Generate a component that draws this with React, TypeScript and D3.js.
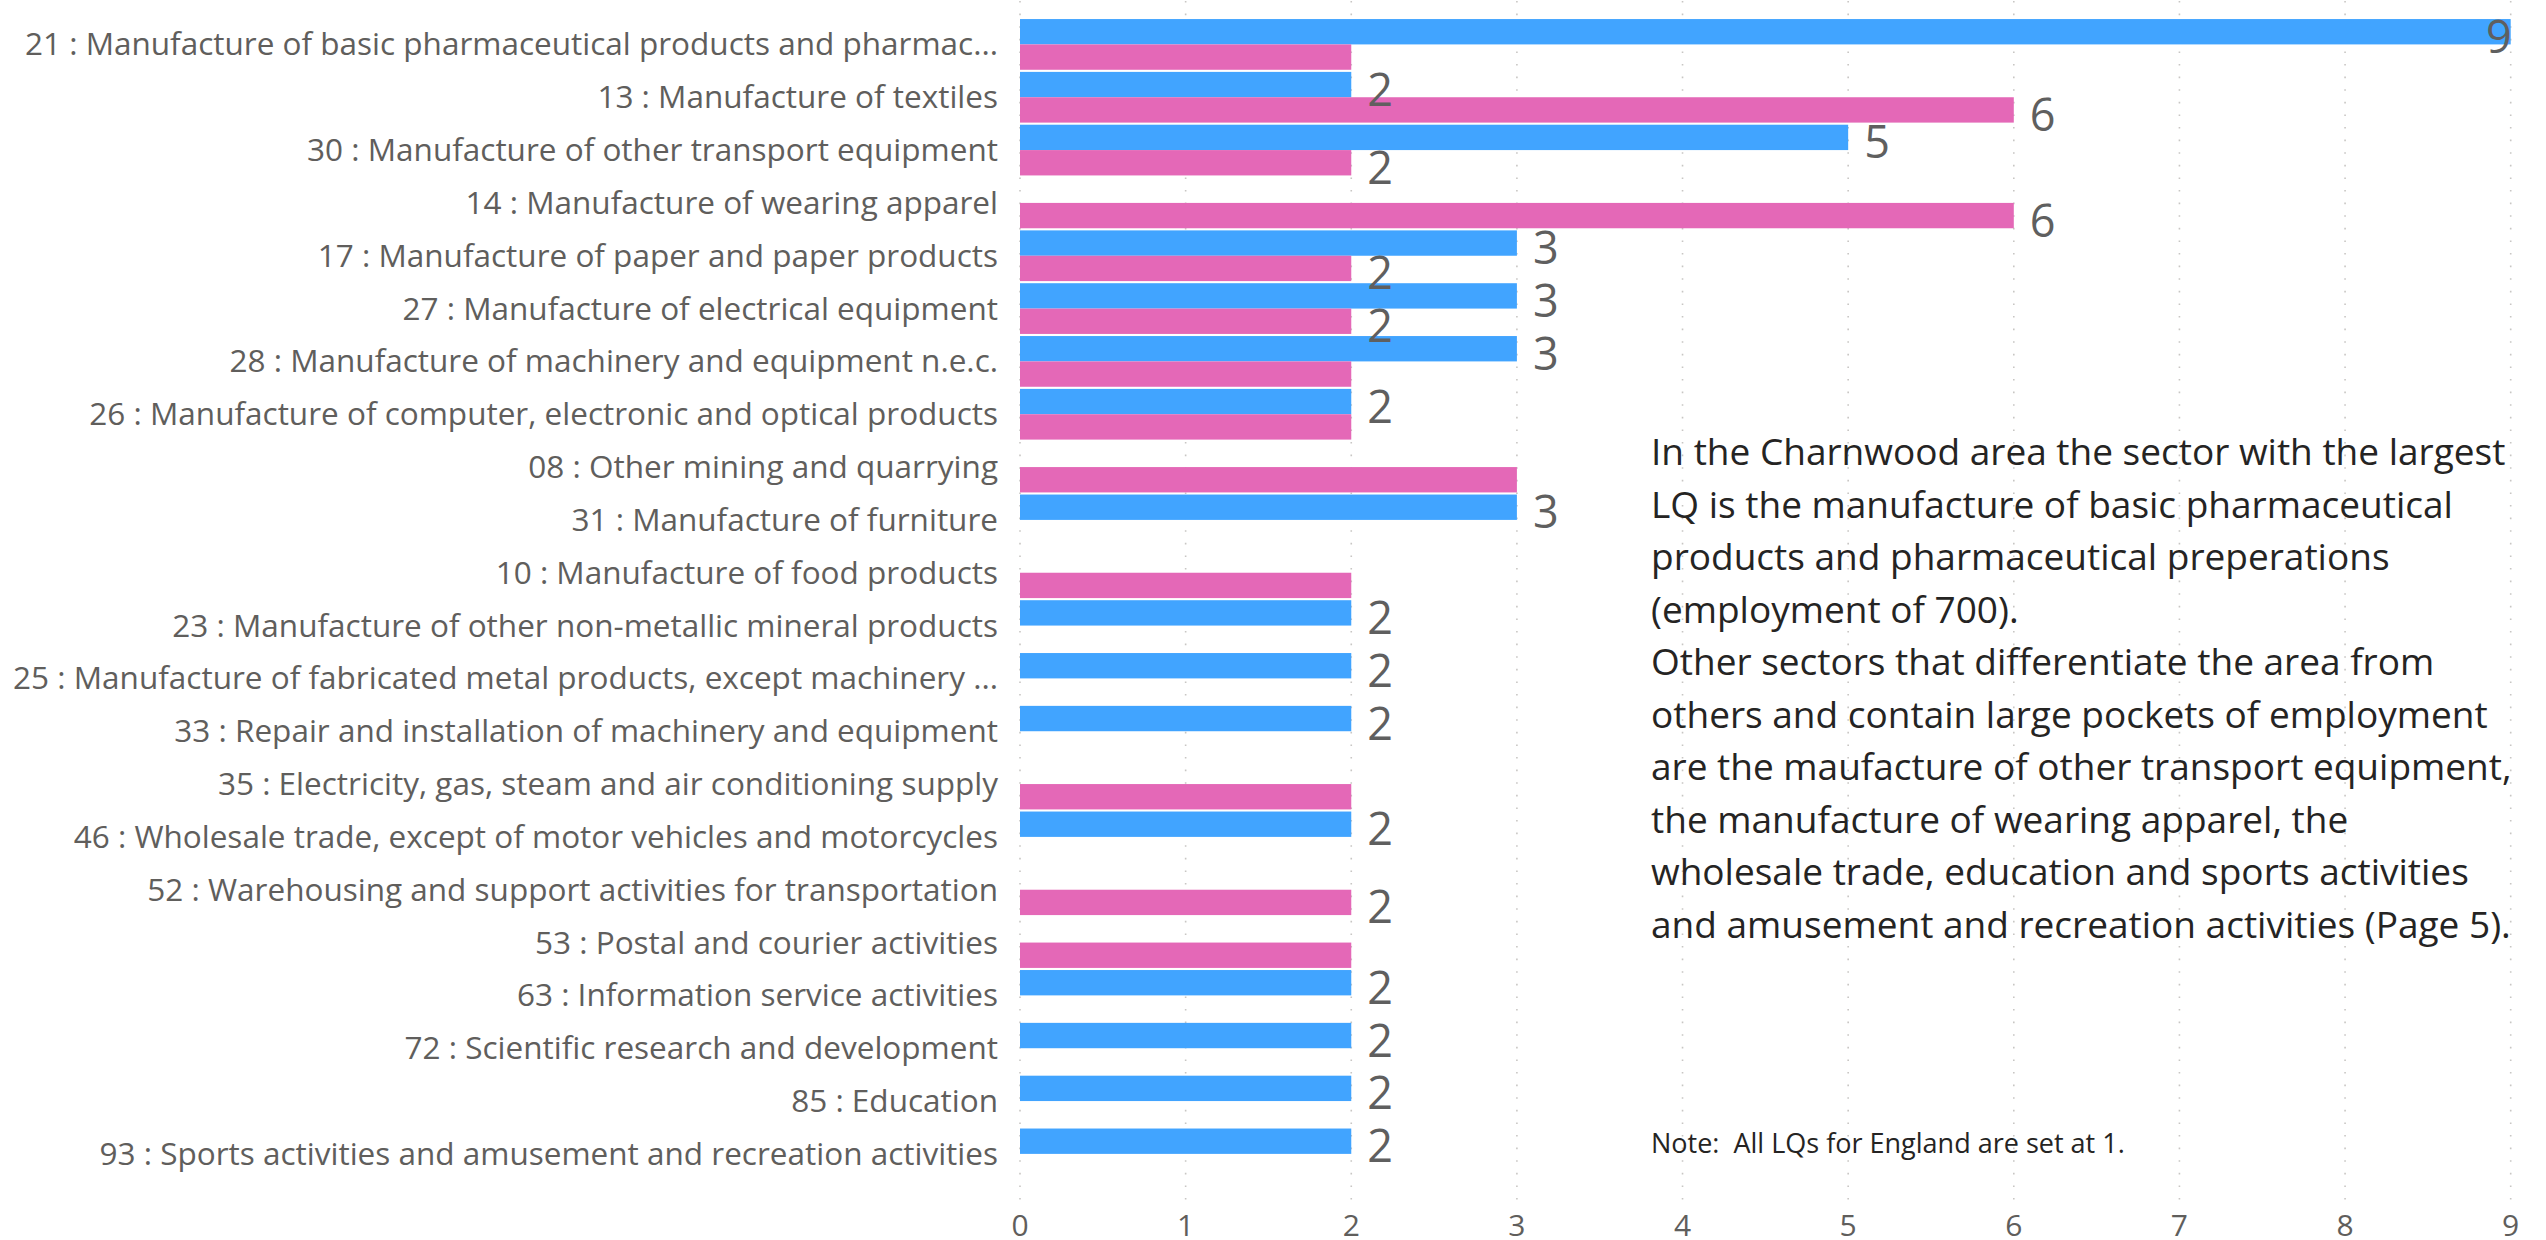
import React from "react";
import * as d3 from "d3";

const categories = [
  "21 : Manufacture of basic pharmaceutical products and pharmac...",
  "13 : Manufacture of textiles",
  "30 : Manufacture of other transport equipment",
  "14 : Manufacture of wearing apparel",
  "17 : Manufacture of paper and paper products",
  "27 : Manufacture of electrical equipment",
  "28 : Manufacture of machinery and equipment n.e.c.",
  "26 : Manufacture of computer, electronic and optical products",
  "08 : Other mining and quarrying",
  "31 : Manufacture of furniture",
  "10 : Manufacture of food products",
  "23 : Manufacture of other non-metallic mineral products",
  "25 : Manufacture of fabricated metal products, except machinery ...",
  "33 : Repair and installation of machinery and equipment",
  "35 : Electricity, gas, steam and air conditioning supply",
  "46 : Wholesale trade, except of motor vehicles and motorcycles",
  "52 : Warehousing and support activities for transportation",
  "53 : Postal and courier activities",
  "63 : Information service activities",
  "72 : Scientific research and development",
  "85 : Education",
  "93 : Sports activities and amusement and recreation activities",
];

// blue series (top bar of each pair)
const blueValues: (number | null)[] = [9, 2, 5, null, 3, 3, 3, 2, null, 3, null, 2, 2, 2, null, 2, null, null, 2, 2, 2, 2];
// pink series (bottom bar of each pair)
const pinkValues: (number | null)[] = [2, 6, 2, 6, 2, 2, 2, 2, 3, null, 2, null, null, null, 2, null, 2, 2, null, null, null, null];

const xTicks = [0, 1, 2, 3, 4, 5, 6, 7, 8, 9];

const noteLines = [
  "In the Charnwood area the sector with the largest",
  "LQ is the manufacture of basic pharmaceutical",
  "products and pharmaceutical preperations",
  "(employment of 700).",
  "Other sectors that differentiate the area from",
  "others and contain large pockets of employment",
  "are the maufacture of other transport equipment,",
  "the manufacture of wearing apparel, the",
  "wholesale trade, education and sports activities",
  "and amusement and recreation activities (Page 5).",
];
const footNote = "Note:  All LQs for England are set at 1.";

const BLUE = "#41A4FF";
const PINK = "#E468B7";
const FONT = "'Segoe UI', 'Open Sans', sans-serif";

export default function App() {
  const W = 2546;
  const H = 1240;
  const x = d3.scaleLinear().domain([0, 9]).range([1020, 2510.7]);
  const y = d3
    .scaleBand<string>()
    .domain(categories)
    .range([18, 1180.3])
    .paddingInner(0.04)
    .paddingOuter(0.02);
  const sub = d3.scaleBand<string>().domain(["blue", "pink"]).range([0, y.bandwidth()]);

  const labelFont = 45;
  const labelH = 31;
  const labelW = 26;
  const labelOffX = 18;

  type Lbl = { x: number; y: number; text: string; anchor: string; box: any };
  const placed: { x0: number; x1: number; y0: number; y1: number }[] = [];
  const labels: Lbl[] = [];

  const makeLabel = (v: number, cy: number): Lbl => {
    const baseline = cy + 21;
    if (v >= x.domain()[1]) {
      const xr = x(v) + 1;
      return { x: xr, y: baseline, text: String(v), anchor: "end", box: { x0: xr - labelW, x1: xr, y0: baseline - labelH, y1: baseline } };
    }
    const xl = x(v) + labelOffX;
    return { x: xl - 2, y: baseline, text: String(v), anchor: "start", box: { x0: xl, x1: xl + labelW, y0: baseline - labelH, y1: baseline } };
  };
  const overlaps = (b: any) =>
    placed.some((p) => b.x0 < p.x1 && b.x1 > p.x0 && b.y0 < p.y1 && b.y1 > p.y0);

  categories.forEach((c, i) => {
    const v = blueValues[i];
    if (v != null) {
      const l = makeLabel(v, (y(c) as number) + (sub("blue") as number) + sub.bandwidth() / 2);
      placed.push(l.box);
      labels.push(l);
    }
  });
  categories.forEach((c, i) => {
    const v = pinkValues[i];
    if (v != null) {
      const l = makeLabel(v, (y(c) as number) + (sub("pink") as number) + sub.bandwidth() / 2);
      if (!overlaps(l.box)) {
        placed.push(l.box);
        labels.push(l);
      }
    }
  });

  return (
    <svg
      width={W}
      height={H}
      style={{ position: "fixed", left: 0, top: 0, background: "#fff" }}
      fontFamily={FONT}
    >
      {/* gridlines */}
      {xTicks.map((t) => (
        <line
          key={"g" + t}
          x1={x(t)}
          x2={x(t)}
          y1={1}
          y2={1200}
          stroke="#C8C6C4"
          strokeWidth={1.6}
          strokeDasharray="1.6 11"
        />
      ))}
      {/* bars */}
      {categories.map((c, i) => (
        <g key={"b" + i} transform={`translate(0,${y(c)})`}>
          {blueValues[i] != null && (
            <rect
              x={x(0)}
              y={sub("blue")}
              width={x(blueValues[i] as number) - x(0)}
              height={sub.bandwidth()}
              fill={BLUE}
            />
          )}
          {pinkValues[i] != null && (
            <rect
              x={x(0)}
              y={sub("pink")}
              width={x(pinkValues[i] as number) - x(0)}
              height={sub.bandwidth()}
              fill={PINK}
            />
          )}
        </g>
      ))}
      {/* data labels */}
      {labels.map((l, i) => (
        <text key={"l" + i} x={l.x} y={l.y} textAnchor={l.anchor} fontSize={labelFont} fill="#5F5F5F">
          {l.text}
        </text>
      ))}
      {/* category labels */}
      {categories.map((c) => (
        <text
          key={"c" + c}
          x={998}
          y={(y(c) as number) + y.bandwidth() / 2 + 11}
          textAnchor="end"
          fontSize={31.5}
          fill="#605E5C"
        >
          {c}
        </text>
      ))}
      {/* x tick labels */}
      {xTicks.map((t) => (
        <text key={"t" + t} x={x(t)} y={1236} textAnchor="middle" fontSize={30} fill="#605E5C">
          {t}
        </text>
      ))}
      {/* annotation */}
      {noteLines.map((ln, i) => (
        <text key={"n" + i} x={1651} y={465 + i * 52.5} fontSize={37} fill="#252423">
          {ln}
        </text>
      ))}
      <text x={1651} y={1153} fontSize={27} fill="#252423" style={{ whiteSpace: "pre" }}>
        {footNote}
      </text>
    </svg>
  );
}
